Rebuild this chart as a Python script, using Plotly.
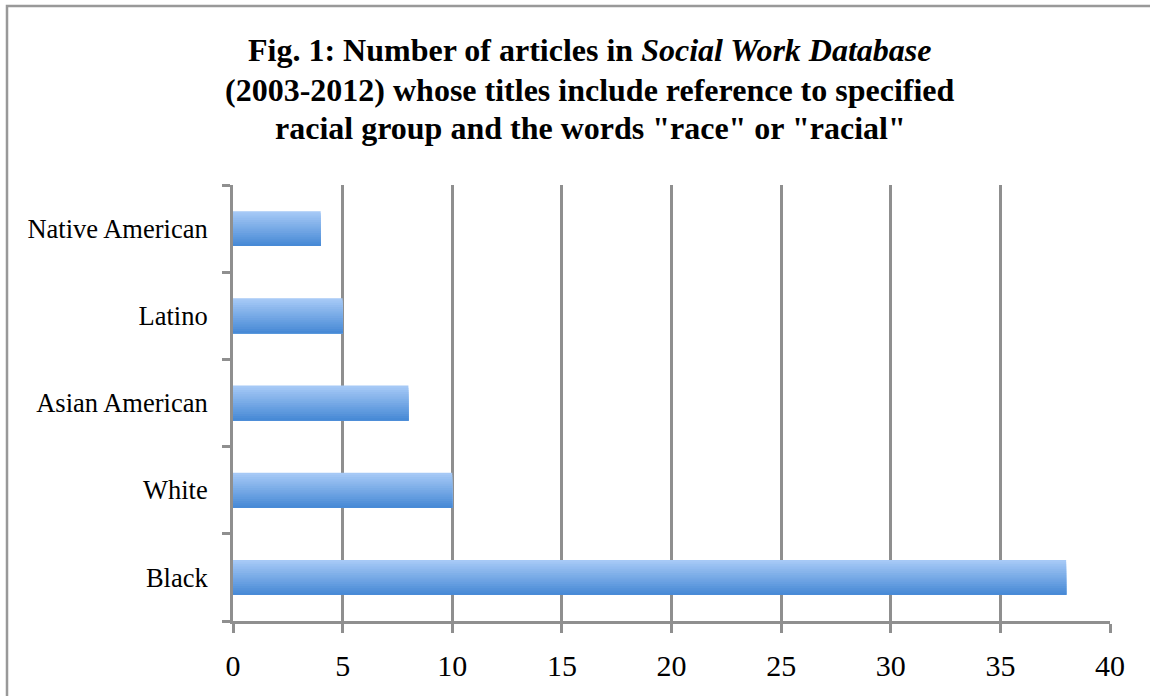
import plotly.graph_objects as go

categories = ["Black", "White", "Asian American", "Latino", "Native American"]
values = [38, 10, 8, 5, 4]
x_ticks = [0, 5, 10, 15, 20, 25, 30, 35, 40]

title_lines = [
    "<b>Fig. 1: Number of articles in <i>Social Work Database</i></b>",
    "<b>(2003-2012) whose titles include reference to specified</b>",
    "<b>racial group and the words \"race\" or \"racial\"</b>",
]

W, H = 1150, 696
ML, MR, MT, MB = 233, 40, 185, 75
PW, PH = W - ML - MR, H - MT - MB

def px_x(px):
    return (px - ML) / PW

def px_y(py):
    return 1 + (MT - py) / PH

# gradient (top light -> bottom dark), layered so each layer covers down to bar bottom
top_c = (166, 201, 246)
bot_c = (72, 138, 214)
n = 16
bar_h = 0.4
fig = go.Figure()
for i in range(n):
    t = i / (n - 1)
    c = tuple(int(round(top_c[k] + (bot_c[k] - top_c[k]) * t)) for k in range(3))
    h = bar_h / n
    top_off = bar_h / 2 - i * h
    fig.add_trace(go.Bar(
        y=categories, x=values, orientation="h",
        width=top_off + bar_h / 2, offset=-bar_h / 2,
        marker=dict(color="rgb(%d,%d,%d)" % c, line=dict(width=0)),
        showlegend=False, hoverinfo="x+y" if i == 0 else "skip",
    ))

grid_c = "#8f8f8f"
fig.update_layout(
    width=W, height=H,
    margin=dict(l=ML, r=MR, t=MT, b=MB),
    paper_bgcolor="white", plot_bgcolor="white",
    barmode="overlay",
    showlegend=False,
    font=dict(family="Liberation Serif", color="black"),
    xaxis=dict(
        range=[0, 40], tickvals=x_ticks, ticktext=[str(v) for v in x_ticks],
        showgrid=True, gridcolor=grid_c, gridwidth=2.5,
        zeroline=False, showline=True, linecolor=grid_c, linewidth=3,
        ticks="outside", ticklen=9, tickwidth=2.5, tickcolor=grid_c,
        tickfont=dict(size=30, family="Liberation Serif", color="black"),
        ticklabelstandoff=7,
        fixedrange=True,
    ),
    yaxis=dict(
        type="category", categoryorder="array", categoryarray=categories,
        range=[-0.5, 4.5],
        showgrid=False, zeroline=False, showline=True, linecolor=grid_c, linewidth=3,
        ticks="outside", tickson="boundaries", ticklen=8, tickwidth=2.5, tickcolor=grid_c,
        tickfont=dict(size=26.5, family="Liberation Serif", color="black"),
        ticklabelstandoff=17,
        fixedrange=True,
    ),
)

ys = [50, 90, 128]
for line, yy in zip(title_lines, ys):
    fig.add_annotation(
        text=line, xref="paper", yref="paper", x=px_x(590), y=px_y(yy),
        xanchor="center", yanchor="middle", showarrow=False,
        font=dict(size=32, family="Liberation Serif", color="black"),
    )

fig.add_shape(
    type="rect", xref="paper", yref="paper",
    x0=px_x(7), y0=px_y(760), x1=px_x(1200), y1=px_y(6),
    line=dict(color="#999999", width=2.5), fillcolor="rgba(0,0,0,0)", layer="above",
)

fig.write_html("out.html")
